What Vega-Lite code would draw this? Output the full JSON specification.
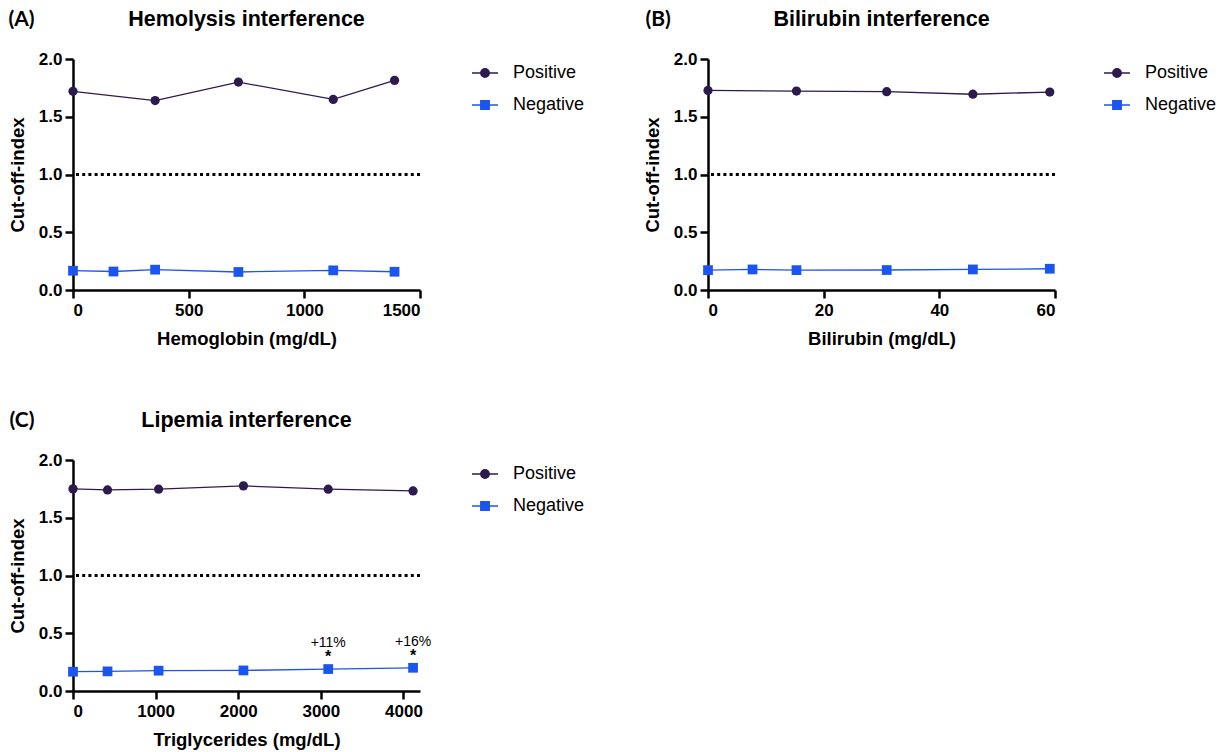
{
  "$schema": "https://vega.github.io/schema/vega-lite/v6.json",
  "background": "white",
  "padding": {"left": 8, "top": 8, "right": 5, "bottom": 5},
  "config": {
    "view": {"stroke": null},
    "axis": {"grid": false, "domainColor": "#000", "domainWidth": 2.5, "tickColor": "#000", "tickWidth": 2.5, "tickSize": 8, "labelFont": "Liberation Sans", "labelFontWeight": "bold", "labelFontSize": 17, "labelColor": "#000", "titleFont": "Liberation Sans", "titleFontWeight": "bold", "titleFontSize": 18.5, "titleColor": "#000"},
    "axisX": {"labelPadding": 4, "titlePadding": 11},
    "axisY": {"labelPadding": 3, "titlePadding": 11},
    "legend": {"orient": "right", "symbolSize": 676, "labelFontSize": 18, "labelFont": "Liberation Sans", "labelColor": "#000", "rowPadding": 9, "labelOffset": 14, "symbolStrokeWidth": 1.3}
  },
  "columns": 2,
  "spacing": {"row": 61, "column": 58},
  "resolve": {"scale": {"x": "independent", "y": "independent", "color": "independent"}, "legend": {"color": "independent"}},
  "concat": [
    {
      "width": 347, "height": 231,
      "title": {"text": "Hemolysis interference", "anchor": "middle", "frame": "group", "font": "Liberation Sans", "fontSize": 21.5, "fontWeight": "bold", "color": "#000", "offset": -22},
      "layer": [
        {"data": {"values": [{"ref": 1}]},
         "mark": {"type": "rule", "strokeDash": [3, 3.2], "strokeWidth": 3, "color": "#000"},
         "encoding": {"y": {"field": "ref", "type": "quantitative", "scale": {"domain": [0, 2]},
           "axis": {"orient": "left", "title": "(A)", "domain": false, "ticks": false, "labels": false, "titleAngle": 0, "titleX": -65, "titleY": -40, "titleAlign": "left", "titleBaseline": "middle", "titleFont": "Lato", "titleFontSize": 21, "titleFontWeight": "bold"}}}},
        {"data": {"values": [
          {"conc": 0, "index": 1.72, "series": "Positive"},
          {"conc": 355, "index": 1.64, "series": "Positive"},
          {"conc": 715, "index": 1.80, "series": "Positive"},
          {"conc": 1125, "index": 1.65, "series": "Positive"},
          {"conc": 1390, "index": 1.815, "series": "Positive"},
          {"conc": 0, "index": 0.167, "series": "Negative"},
          {"conc": 175, "index": 0.16, "series": "Negative"},
          {"conc": 355, "index": 0.176, "series": "Negative"},
          {"conc": 715, "index": 0.156, "series": "Negative"},
          {"conc": 1125, "index": 0.17, "series": "Negative"},
          {"conc": 1390, "index": 0.158, "series": "Negative"}
         ]},
         "layer": [
          {"mark": {"type": "line", "strokeWidth": 1.3},
           "encoding": {
            "x": {"field": "conc", "type": "quantitative", "scale": {"domain": [0, 1500], "nice": false}, "axis": {"values": [0, 500, 1000, 1500], "format": "d", "title": "Hemoglobin (mg/dL)"}},
            "y": {"field": "index", "type": "quantitative", "axis": {"orient": "left", "values": [0, 0.5, 1, 1.5, 2], "format": ".1f", "title": "Cut-off-index"}},
            "color": {"field": "series", "type": "nominal", "scale": {"domain": ["Positive", "Negative"], "range": ["#2d1b4e", "#1b55ef"]},
              "legend": {"title": null, "offset": 51,
                "encode": {"symbols": {"update": {
                  "shape": {"signal": "datum.value === 'Positive' ? 'M-1,0L-0.33,0M0.33,0L1,0M-0.33,0A0.33,0.33,0,1,1,0.33,0A0.33,0.33,0,1,1,-0.33,0Z' : 'M-1,0L-0.33,0M0.33,0L1,0M-0.33,-0.33L0.33,-0.33L0.33,0.33L-0.33,0.33Z'"},
                  "fill": {"signal": "datum.value === 'Positive' ? '#2d1b4e' : '#1b55ef'"},
                  "stroke": {"signal": "datum.value === 'Positive' ? '#2d1b4e' : '#1b55ef'"}}}}}}
           }},
          {"mark": {"type": "point", "filled": true, "opacity": 1},
           "encoding": {
            "x": {"field": "conc", "type": "quantitative"},
            "y": {"field": "index", "type": "quantitative"},
            "color": {"field": "series", "type": "nominal", "legend": null},
            "shape": {"condition": {"test": "datum.series === 'Positive'", "value": "circle"}, "value": "square"},
            "size": {"condition": {"test": "datum.series === 'Positive'", "value": 85}, "value": 95}
           }}
         ]}
      ],
      "resolve": {"axis": {"y": "independent"}}
    },
    {
      "width": 347, "height": 231,
      "title": {"text": "Bilirubin interference", "anchor": "middle", "frame": "group", "font": "Liberation Sans", "fontSize": 21.5, "fontWeight": "bold", "color": "#000", "offset": -22},
      "layer": [
        {"data": {"values": [{"ref": 1}]},
         "mark": {"type": "rule", "strokeDash": [3, 3.2], "strokeWidth": 3, "color": "#000"},
         "encoding": {"y": {"field": "ref", "type": "quantitative", "scale": {"domain": [0, 2]},
           "axis": {"orient": "left", "title": "(B)", "domain": false, "ticks": false, "labels": false, "titleAngle": 0, "titleX": -63, "titleY": -40, "titleAlign": "left", "titleBaseline": "middle", "titleFont": "Lato", "titleFontSize": 21, "titleFontWeight": "bold"}}}},
        {"data": {"values": [
          {"conc": 0, "index": 1.728, "series": "Positive"},
          {"conc": 15.3, "index": 1.722, "series": "Positive"},
          {"conc": 30.9, "index": 1.717, "series": "Positive"},
          {"conc": 45.8, "index": 1.695, "series": "Positive"},
          {"conc": 59.1, "index": 1.714, "series": "Positive"},
          {"conc": 0, "index": 0.172, "series": "Negative"},
          {"conc": 7.7, "index": 0.178, "series": "Negative"},
          {"conc": 15.3, "index": 0.172, "series": "Negative"},
          {"conc": 30.9, "index": 0.173, "series": "Negative"},
          {"conc": 45.8, "index": 0.178, "series": "Negative"},
          {"conc": 59.1, "index": 0.184, "series": "Negative"}
         ]},
         "layer": [
          {"mark": {"type": "line", "strokeWidth": 1.3},
           "encoding": {
            "x": {"field": "conc", "type": "quantitative", "scale": {"domain": [0, 60], "nice": false}, "axis": {"values": [0, 20, 40, 60], "format": "d", "title": "Bilirubin (mg/dL)"}},
            "y": {"field": "index", "type": "quantitative", "axis": {"orient": "left", "values": [0, 0.5, 1, 1.5, 2], "format": ".1f", "title": "Cut-off-index"}},
            "color": {"field": "series", "type": "nominal", "scale": {"domain": ["Positive", "Negative"], "range": ["#2d1b4e", "#1b55ef"]},
              "legend": {"title": null, "offset": 48,
                "encode": {"symbols": {"update": {
                  "shape": {"signal": "datum.value === 'Positive' ? 'M-1,0L-0.33,0M0.33,0L1,0M-0.33,0A0.33,0.33,0,1,1,0.33,0A0.33,0.33,0,1,1,-0.33,0Z' : 'M-1,0L-0.33,0M0.33,0L1,0M-0.33,-0.33L0.33,-0.33L0.33,0.33L-0.33,0.33Z'"},
                  "fill": {"signal": "datum.value === 'Positive' ? '#2d1b4e' : '#1b55ef'"},
                  "stroke": {"signal": "datum.value === 'Positive' ? '#2d1b4e' : '#1b55ef'"}}}}}}
           }},
          {"mark": {"type": "point", "filled": true, "opacity": 1},
           "encoding": {
            "x": {"field": "conc", "type": "quantitative"},
            "y": {"field": "index", "type": "quantitative"},
            "color": {"field": "series", "type": "nominal", "legend": null},
            "shape": {"condition": {"test": "datum.series === 'Positive'", "value": "circle"}, "value": "square"},
            "size": {"condition": {"test": "datum.series === 'Positive'", "value": 85}, "value": 95}
           }}
         ]}
      ],
      "resolve": {"axis": {"y": "independent"}}
    },
    {
      "width": 347, "height": 231,
      "title": {"text": "Lipemia interference", "anchor": "middle", "frame": "group", "font": "Liberation Sans", "fontSize": 21.5, "fontWeight": "bold", "color": "#000", "offset": -22},
      "layer": [
        {"data": {"values": [{"ref": 1}]},
         "mark": {"type": "rule", "strokeDash": [3, 3.2], "strokeWidth": 3, "color": "#000"},
         "encoding": {"y": {"field": "ref", "type": "quantitative", "scale": {"domain": [0, 2]},
           "axis": {"orient": "left", "title": "(C)", "domain": false, "ticks": false, "labels": false, "titleAngle": 0, "titleX": -64, "titleY": -40, "titleAlign": "left", "titleBaseline": "middle", "titleFont": "Lato", "titleFontSize": 21, "titleFontWeight": "bold"}}}},
        {"data": {"values": [
          {"conc": 0, "index": 1.75, "series": "Positive"},
          {"conc": 418, "index": 1.741, "series": "Positive"},
          {"conc": 1036, "index": 1.747, "series": "Positive"},
          {"conc": 2063, "index": 1.776, "series": "Positive"},
          {"conc": 3089, "index": 1.747, "series": "Positive"},
          {"conc": 4116, "index": 1.732, "series": "Positive"},
          {"conc": 0, "index": 0.167, "series": "Negative"},
          {"conc": 418, "index": 0.17, "series": "Negative"},
          {"conc": 1036, "index": 0.176, "series": "Negative"},
          {"conc": 2063, "index": 0.178, "series": "Negative"},
          {"conc": 3089, "index": 0.19, "series": "Negative"},
          {"conc": 4116, "index": 0.201, "series": "Negative"}
         ]},
         "layer": [
          {"mark": {"type": "line", "strokeWidth": 1.3},
           "encoding": {
            "x": {"field": "conc", "type": "quantitative", "scale": {"domain": [0, 4200], "nice": false}, "axis": {"values": [0, 1000, 2000, 3000, 4000], "format": "d", "title": "Triglycerides (mg/dL)"}},
            "y": {"field": "index", "type": "quantitative", "axis": {"orient": "left", "values": [0, 0.5, 1, 1.5, 2], "format": ".1f", "title": "Cut-off-index"}},
            "color": {"field": "series", "type": "nominal", "scale": {"domain": ["Positive", "Negative"], "range": ["#2d1b4e", "#1b55ef"]},
              "legend": {"title": null, "offset": 51,
                "encode": {"symbols": {"update": {
                  "shape": {"signal": "datum.value === 'Positive' ? 'M-1,0L-0.33,0M0.33,0L1,0M-0.33,0A0.33,0.33,0,1,1,0.33,0A0.33,0.33,0,1,1,-0.33,0Z' : 'M-1,0L-0.33,0M0.33,0L1,0M-0.33,-0.33L0.33,-0.33L0.33,0.33L-0.33,0.33Z'"},
                  "fill": {"signal": "datum.value === 'Positive' ? '#2d1b4e' : '#1b55ef'"},
                  "stroke": {"signal": "datum.value === 'Positive' ? '#2d1b4e' : '#1b55ef'"}}}}}}
           }},
          {"mark": {"type": "point", "filled": true, "opacity": 1},
           "encoding": {
            "x": {"field": "conc", "type": "quantitative"},
            "y": {"field": "index", "type": "quantitative"},
            "color": {"field": "series", "type": "nominal", "legend": null},
            "shape": {"condition": {"test": "datum.series === 'Positive'", "value": "circle"}, "value": "square"},
            "size": {"condition": {"test": "datum.series === 'Positive'", "value": 85}, "value": 95}
           }}
         ]},
        {"data": {"values": [
          {"conc": 3089, "index": 0.19, "label": "+11%"},
          {"conc": 4116, "index": 0.201, "label": "+16%"}
         ]},
         "layer": [
          {"mark": {"type": "text", "text": "*", "dy": -12, "font": "Liberation Sans", "fontSize": 16, "fontWeight": "bold", "color": "#000", "baseline": "middle"},
           "encoding": {"x": {"field": "conc", "type": "quantitative"}, "y": {"field": "index", "type": "quantitative", "axis": null}}},
          {"mark": {"type": "text", "dy": -26, "font": "Liberation Sans", "fontSize": 14, "color": "#000", "baseline": "middle"},
           "encoding": {"x": {"field": "conc", "type": "quantitative"}, "y": {"field": "index", "type": "quantitative", "axis": null}, "text": {"field": "label", "type": "nominal"}}}
         ]}
      ],
      "resolve": {"axis": {"y": "independent"}}
    }
  ]
}
